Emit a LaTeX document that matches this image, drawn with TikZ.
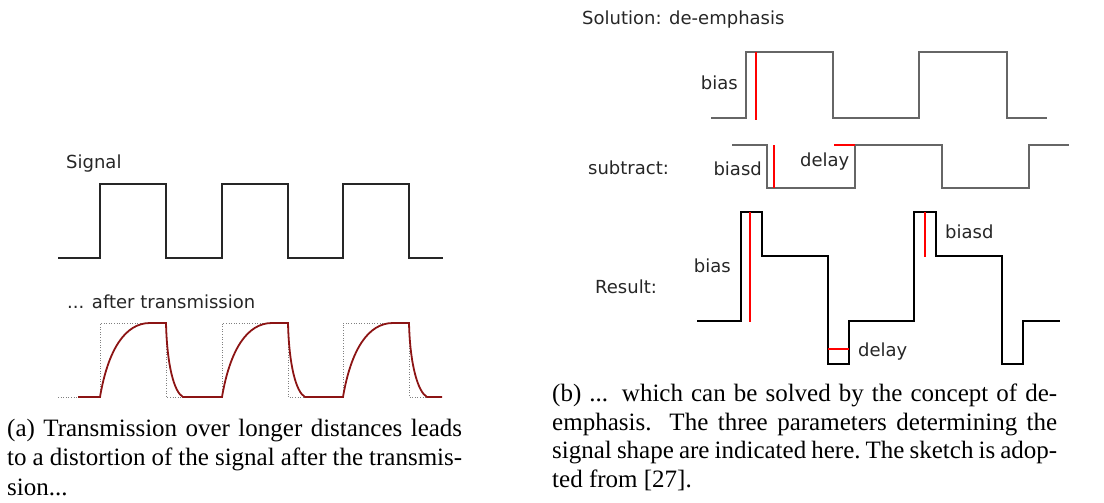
\documentclass[tikz,border=0pt]{standalone}
\usepackage{fontspec}
\setmainfont{Liberation Serif}
\newfontfamily\dv{DejaVu Sans}
\begin{document}
\begin{tikzpicture}[x=1pt,y=-1pt,
  lbl/.style={font=\dv\fontsize{18}{20}\selectfont, inner sep=0pt, text=black!85},
  captext/.style={font=\fontsize{25}{29}\selectfont, inner sep=0pt, anchor=base west},
  sig/.style={line width=1.8pt, black!85},
  dsig/.style={line width=1.1pt, black!60},
  res/.style={line width=2.6pt, black},
  redline/.style={line width=1.2pt, red},
  trans/.style={line width=1.8pt, color={rgb,255:red,140;green,20;blue,20}},
  ghost/.style={line width=0.6pt, gray, dotted}]
\useasboundingbox (0,0) rectangle (1104,503);
% ---------- left panel ----------
\node[lbl, anchor=base west] (signal) at (66,168) {Signal};
\draw[sig] (58,258) -- (100,258) -- (100,184) -- (166,184) -- (166,258) -- (222,258) -- (222,184) -- (288,184) -- (288,258) -- (343,258) -- (343,184) -- (409,184) -- (409,258) -- (443,258);
\node[lbl, anchor=base west] (after) at (67,308) {... after transmission};
\draw[ghost] (58,397) -- (100,397) -- (100,323) -- (166,323) -- (166,397) -- (222,397) -- (222,323) -- (288,323) -- (288,397) -- (343,397) -- (343,323) -- (409,323) -- (409,397) -- (443,397);
\draw[trans] (78,397) -- (100,397) .. controls (108,350) and (125,323) .. (150,323) -- (166,323) .. controls (167,365) and (174,392) .. (183,397)
  -- (222,397) .. controls (230,350) and (247,323) .. (272,323) -- (288,323) .. controls (289,365) and (296,392) .. (305,397)
  -- (343,397) .. controls (351,350) and (368,323) .. (393,323) -- (409,323) .. controls (410,365) and (418,392) .. (427,397) -- (442,397);
% ---------- right panel ----------
\node[lbl, anchor=base west] (solution) at (582,25) {Solution: de-emphasis};
\draw[dsig] (711,118) -- (746,118) -- (746,52) -- (833,52) -- (833,118) -- (919,118) -- (919,52) -- (1007,52) -- (1007,118) -- (1047,118);
\draw[redline] (756,52) -- (756,120);
\node[lbl, anchor=base east] (bias1) at (738,89) {bias};
% subtract
\node[lbl, anchor=base west] (subtract) at (588,174) {subtract:};
\draw[dsig] (732,145) -- (767,145) -- (767,188) -- (855,188) -- (855,145) -- (942,145) -- (942,188) -- (1029,188) -- (1029,145) -- (1069,145);
\draw[redline] (774,145) -- (774,188);
\draw[redline] (834,145) -- (855,145);
\node[lbl, anchor=base east] (biasd1) at (762,175) {biasd};
\node[lbl, anchor=base west] (delay1) at (800,166) {delay};
% result
\node[lbl, anchor=base west] (result) at (595,293) {Result:};
\draw[res] (697,321) -- (741,321) -- (741,212) -- (762,212) -- (762,256) -- (828,256) -- (828,364) -- (849,364) -- (849,321) -- (914,321) -- (914,212) -- (936,212) -- (936,256) -- (1002,256) -- (1002,364) -- (1023,364) -- (1023,321) -- (1060,321);
\draw[redline] (750,212) -- (750,322);
\draw[redline] (828,349) -- (849,349);
\draw[redline] (925,212) -- (925,257);
\node[lbl, anchor=base east] (bias2) at (731,272) {bias};
\node[lbl, anchor=base west] (delay2) at (858,356) {delay};
\node[lbl, anchor=base west] (biasd2) at (945,238) {biasd};
% ---------- captions ----------
\node[captext] (capa1) at (7,436) {\makebox[455pt][s]{(a) Transmission over longer distances leads}};
\node[captext] (capa2) at (7,465.5) {\makebox[455pt][s]{to a distortion of the signal after the transmis-}};
\node[captext] (capa3) at (7,495) {sion...};
\node[captext] (capb1) at (552,401.5) {\makebox[505pt][s]{(b) ... which can be solved by the concept of de-}};
\node[captext] (capb2) at (552,430) {\makebox[505pt][s]{emphasis. The three parameters determining the}};
\node[captext] (capb3) at (552,458.5) {\makebox[505pt][s]{signal shape are indicated here.\@ The sketch is adop-}};
\node[captext] (capb4) at (552,487) {ted from [27].};
\end{tikzpicture}
\end{document}
